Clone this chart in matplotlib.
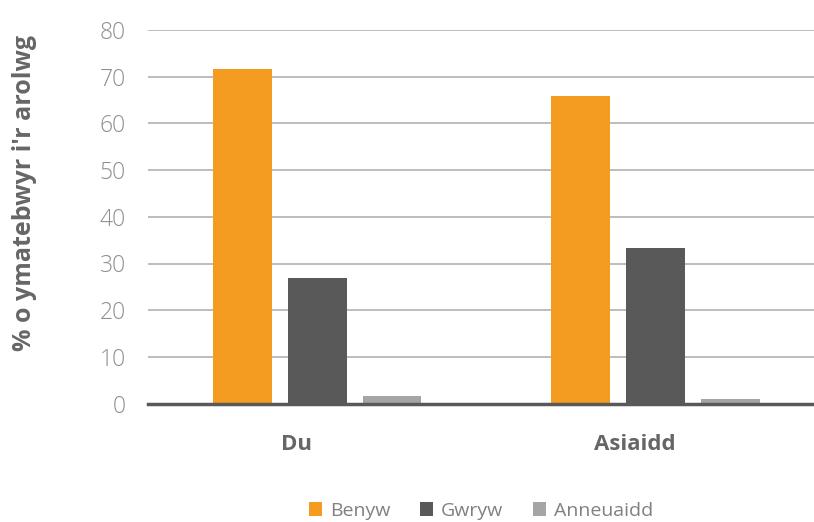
import matplotlib
matplotlib.use("Agg")
import matplotlib.pyplot as plt
import numpy as np
from matplotlib.patches import Patch

categories = ["Du", "Asiaidd"]
series = ["Benyw", "Gwryw", "Anneuaidd"]
benyw = [71.6, 65.9]
gwryw = [27.0, 33.4]
anneuaidd = [1.6, 1.0]
yticks = [0, 10, 20, 30, 40, 50, 60, 70, 80]
ylabel = "% o ymatebwyr i'r arolwg"

colors = ["#F39C1F", "#595959", "#A5A5A5"]
values = [benyw, gwryw, anneuaidd]

fig = plt.figure(figsize=(8.14, 5.22), dpi=100)
ax = fig.add_axes([148/814, (522-403.6)/522, 1-148/814, (403.6-30)/522])

x = np.arange(len(categories))
step = 0.2217
width = 0.1744
for i, (vals, c) in enumerate(zip(values, colors)):
    ax.bar(x + (i-1)*step, vals, width=width, color=c, zorder=3, label=series[i])

ax.set_xlim(-0.5, 1.47)
ax.set_ylim(0, 80)
ax.set_yticks(yticks)
ax.set_yticklabels([str(t) for t in yticks], fontsize=16.5, color="#8E8E8E",
                   family=["Open Sans", "DejaVu Sans"], fontweight="light")
ax.tick_params(axis="y", length=0, pad=16)
ax.set_xticks(x - 0.06)
ax.set_xticklabels(categories, fontsize=16, fontweight="bold", color="#666666",
                   family=["Open Sans", "DejaVu Sans"])
ax.tick_params(axis="x", length=0, pad=22)

ax.grid(axis="y", color="#BDBDBD", linewidth=1.4, zorder=0)
for s in ["top", "right", "left"]:
    ax.spines[s].set_visible(False)
ax.spines["bottom"].set_color("#595959")
ax.spines["bottom"].set_linewidth(2.5)
ax.spines["bottom"].set_zorder(4)

fig.text(25/814, (522-193)/522, ylabel, rotation=90, ha="center", va="center",
         fontsize=18, fontweight="bold", color="#666666",
         family=["Open Sans", "DejaVu Sans"])

handles = [Patch(facecolor=c, edgecolor="none") for c in colors]
leg = fig.legend(handles, series, loc="center", bbox_to_anchor=(481/814, 1-511/522),
                 ncol=3, frameon=False, handlelength=0.7, handleheight=0.7,
                 handletextpad=0.4, columnspacing=1.5,
                 prop={"family": ["Open Sans", "DejaVu Sans"], "size": 14})
for t in leg.get_texts():
    t.set_color("#808080")

fig.savefig("out.png", dpi=100)
